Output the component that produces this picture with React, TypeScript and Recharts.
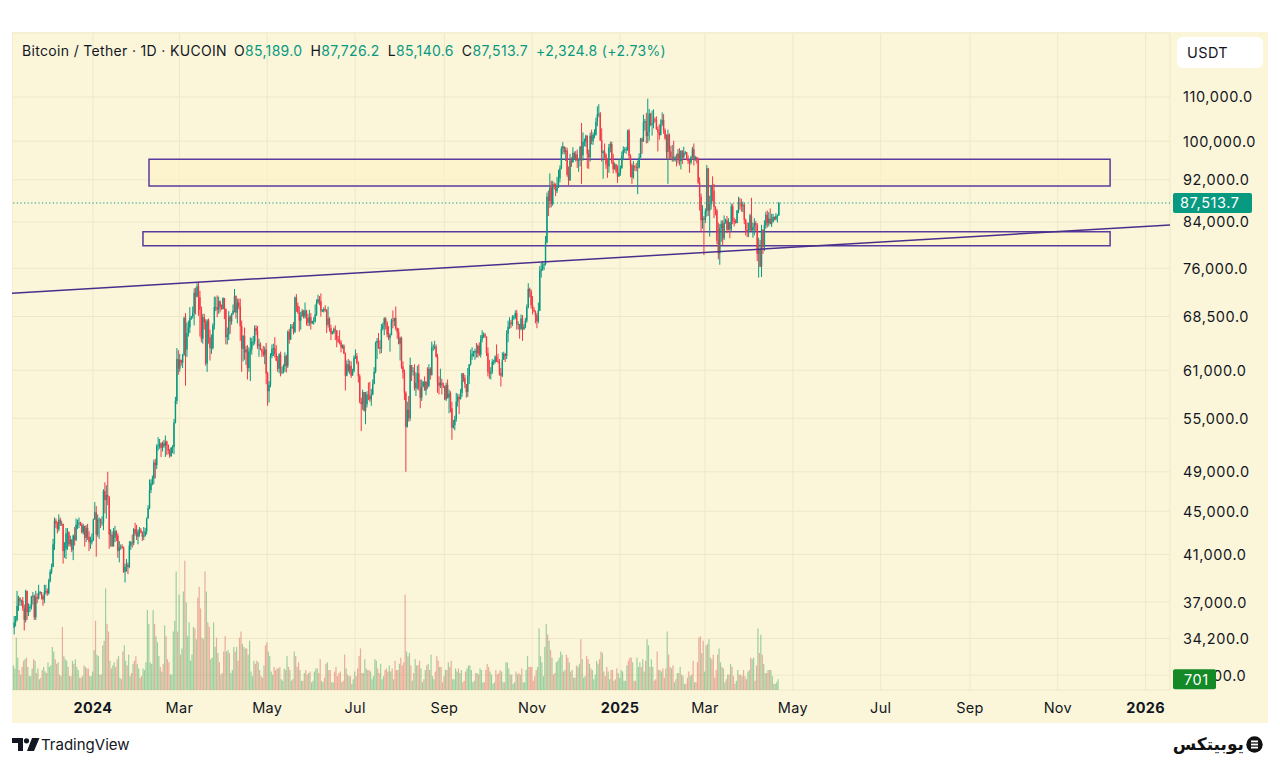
import React from "react";
import {
  ComposedChart,
  Bar,
  XAxis,
  YAxis,
  CartesianGrid,
  ReferenceLine,
  ReferenceArea,
} from "recharts";

// Day index is counted from 2024-01-01. First candle: 2023-11-07.
const FIRST_DAY = -55;
const FIRST_OPEN = 35.0; // thousands USDT

// Each row: [close, high, low, volume]; prices in thousands of USDT.
// A daily crypto candle opens at the previous day's close.
const NOV_2023 = [
  [35.4, 35.9, 34.5, 1600], [35.6, 35.9, 35.1, 1400], [36.7, 37.9, 35.5, 3400], [37.3, 37.5, 36.3, 2100], [37.1, 37.4, 36.7, 1300], [37.1, 37.2, 36.7, 1000],
  [36.5, 37.4, 36.3, 1500], [35.6, 36.8, 34.8, 1900], [37.9, 38.0, 35.4, 2000], [36.2, 37.9, 35.6, 2100], [36.6, 36.9, 35.9, 1500], [36.6, 36.8, 36.2, 900],
  [37.4, 37.5, 36.4, 900], [37.5, 37.8, 36.8, 1400], [35.8, 37.6, 35.6, 2000], [37.4, 37.9, 35.6, 1900], [37.3, 37.7, 36.9, 1100], [37.7, 38.4, 37.2, 1400],
  [37.8, 37.9, 37.6, 700], [37.5, 37.8, 37.2, 800], [37.2, 37.6, 36.7, 1300], [37.8, 38.4, 36.9, 1500], [37.9, 38.4, 37.6, 1200], [37.7, 38.1, 37.5, 1100],
];
const DEC_2023 = [
  [38.7, 38.9, 37.6, 1800], [39.5, 39.7, 38.6, 1500], [39.9, 40.2, 39.3, 1600], [41.9, 42.4, 39.9, 2800], [44.1, 44.4, 41.4, 2500], [43.8, 44.3, 43.4, 2000], [43.3, 44.0, 42.9, 1700], [44.2, 44.7, 43.1, 1800],
  [43.8, 44.4, 43.6, 1000], [43.8, 44.1, 43.6, 900], [41.3, 43.8, 40.2, 4100], [41.5, 42.1, 40.7, 2200], [42.9, 43.4, 40.6, 2000], [43.0, 43.4, 41.4, 1900], [41.9, 43.1, 41.7, 1500], [42.3, 42.7, 41.7, 900],
  [41.4, 42.4, 41.2, 900], [42.7, 42.8, 40.5, 1900], [42.3, 43.5, 41.8, 1700], [43.7, 44.3, 42.2, 2000], [43.9, 44.2, 43.3, 1500], [43.9, 44.4, 43.4, 1300], [43.7, 44.0, 43.6, 800], [43.0, 43.9, 42.9, 800],
  [43.6, 43.8, 42.8, 900], [42.5, 43.6, 41.7, 1600], [43.4, 43.7, 42.1, 1500], [42.6, 43.8, 42.3, 1400], [42.1, 43.1, 41.3, 1400], [42.1, 42.6, 41.5, 900], [42.3, 42.9, 41.9, 900],
];
const JAN_2024 = [
  [44.2, 44.3, 42.2, 1200], [44.9, 45.9, 44.2, 2600], [42.8, 45.5, 40.8, 4500], [44.2, 44.7, 42.6, 2300], [44.2, 44.4, 42.4, 2200], [43.9, 44.3, 43.4, 1000], [43.9, 44.5, 43.6, 1000], [47.0, 47.2, 43.2, 2900],
  [46.1, 47.9, 44.8, 3200], [46.6, 47.6, 44.3, 6600], [46.4, 49.0, 45.6, 4300], [42.8, 46.5, 41.5, 3800], [42.8, 43.3, 41.7, 1900], [41.7, 43.1, 41.7, 1400], [42.5, 43.4, 41.8, 1600], [43.1, 43.6, 42.1, 1800],
  [42.7, 43.2, 42.2, 1500], [41.3, 42.9, 40.7, 2000], [41.6, 42.2, 40.3, 2200], [41.7, 41.9, 41.4, 800], [41.6, 41.9, 41.5, 700], [39.5, 41.7, 39.4, 2500], [39.9, 40.2, 38.6, 2900], [40.1, 40.6, 39.5, 1900],
  [39.9, 40.3, 39.3, 1600], [41.8, 42.2, 39.8, 2300], [42.1, 42.2, 41.4, 900], [42.0, 42.8, 41.6, 1100], [43.3, 43.4, 41.8, 1700], [42.9, 43.9, 42.7, 1900], [42.6, 43.7, 42.3, 2200],
];
const FEB_2024 = [
  [43.1, 43.3, 41.9, 1700], [43.2, 43.5, 42.6, 1400], [43.0, 43.4, 42.9, 800], [42.6, 43.1, 42.2, 900], [42.7, 43.5, 42.3, 1400], [43.1, 43.4, 42.6, 1300], [44.3, 44.4, 42.8, 1800], [45.3, 45.6, 44.3, 5200],
  [47.1, 48.2, 45.2, 4300], [47.8, 48.2, 46.8, 1800], [48.3, 48.6, 47.6, 1700], [50.0, 50.3, 47.7, 5200], [49.7, 50.4, 48.3, 4300], [51.8, 52.0, 49.3, 3500], [51.9, 52.8, 51.3, 3100], [52.1, 52.6, 51.5, 2200],
  [51.6, 52.2, 50.6, 1500], [52.1, 52.3, 51.2, 1200], [51.8, 52.5, 51.6, 1700], [52.3, 53.0, 50.6, 4200], [51.9, 52.4, 50.8, 3500], [51.3, 52.0, 50.9, 2000], [50.7, 51.5, 50.5, 1800], [51.6, 51.7, 50.6, 1000],
  [51.7, 51.9, 51.0, 1000], [54.5, 54.9, 50.9, 3800], [57.1, 57.6, 54.4, 4500], [62.5, 64.0, 56.7, 7700], [61.2, 63.7, 60.4, 3800],
];
const MAR_2024 = [
  [62.4, 63.2, 60.8, 6200], [62.0, 62.4, 61.6, 2300], [63.1, 63.2, 61.3, 2700], [68.3, 68.5, 62.9, 6400], [63.8, 69.0, 59.0, 8400], [66.1, 67.6, 62.8, 5700], [66.9, 67.9, 65.6, 3500], [68.3, 69.9, 66.1, 4400],
  [68.5, 68.6, 68.0, 1900], [69.0, 70.0, 68.2, 2300], [72.1, 72.8, 67.2, 4100], [71.5, 72.9, 68.8, 4000], [73.1, 73.6, 71.4, 3300], [71.4, 73.8, 68.6, 6000], [69.5, 72.4, 65.6, 6700], [65.3, 70.0, 64.8, 5300],
  [68.4, 68.9, 64.6, 3400], [67.6, 68.9, 66.6, 3300], [61.9, 68.1, 61.6, 7700], [67.9, 68.1, 60.8, 6400], [65.5, 68.2, 64.6, 4400], [64.0, 66.6, 62.3, 4100], [64.0, 65.9, 63.2, 2000], [67.2, 67.5, 63.8, 2100],
  [69.9, 71.5, 66.6, 4400], [69.9, 71.5, 69.3, 2800], [69.5, 71.7, 68.4, 3400], [70.8, 71.5, 68.9, 2400], [69.9, 70.9, 69.1, 1800], [69.6, 70.3, 69.5, 1000], [71.3, 71.4, 69.6, 1100],
];
const APR_2024 = [
  [69.6, 71.3, 68.1, 2500], [65.5, 69.7, 64.5, 3500], [65.9, 66.9, 64.5, 2500], [68.5, 69.3, 65.1, 2600], [67.8, 68.7, 66.0, 2400], [68.9, 69.0, 67.3, 1100], [69.4, 70.3, 68.7, 1300], [71.6, 72.7, 69.1, 2800],
  [69.1, 71.7, 68.2, 2500], [70.6, 71.2, 67.5, 2800], [70.0, 71.2, 69.6, 1900], [67.1, 71.2, 65.0, 3400], [63.9, 67.9, 60.8, 3800], [65.7, 65.8, 62.2, 3000], [63.4, 66.9, 62.4, 2800], [63.8, 64.3, 61.7, 2700],
  [61.3, 64.4, 59.8, 2700], [63.5, 64.1, 60.8, 2300], [63.8, 65.5, 59.6, 3200], [64.9, 65.4, 63.1, 1200], [64.9, 65.7, 64.3, 900], [66.8, 67.2, 64.5, 1900], [66.4, 67.2, 65.8, 1700], [64.3, 67.1, 63.9, 1900],
  [64.5, 65.3, 62.8, 1800], [63.8, 64.8, 63.7, 1300], [63.5, 63.9, 62.8, 900], [63.1, 64.3, 62.8, 800], [63.8, 64.2, 61.8, 1600], [60.6, 64.7, 59.2, 2900],
];
const MAY_2024 = [
  [58.3, 60.8, 56.5, 3100], [59.1, 59.6, 56.9, 2500], [62.9, 63.3, 58.8, 2200], [63.9, 64.5, 62.6, 1200], [64.0, 64.6, 62.9, 1000], [63.2, 65.5, 62.7, 1500], [62.3, 64.4, 62.2, 1300], [61.2, 62.9, 60.8, 1400],
  [63.1, 63.3, 60.6, 1400], [60.8, 63.5, 60.2, 1500], [60.8, 61.5, 60.5, 700], [61.5, 61.8, 60.6, 600], [62.9, 63.4, 60.8, 1400], [61.6, 63.1, 60.7, 1300], [66.3, 66.5, 61.3, 2200], [65.2, 66.7, 64.6, 1500],
  [67.0, 67.4, 65.1, 1300], [67.0, 67.4, 66.7, 600], [66.3, 67.7, 65.9, 700], [71.4, 71.5, 66.1, 2500], [70.1, 71.9, 69.2, 2200], [69.1, 70.6, 68.9, 1500], [67.9, 70.0, 66.3, 1800], [68.5, 69.2, 66.6, 1300],
  [69.3, 69.6, 68.5, 600], [68.5, 69.5, 68.2, 600], [69.4, 70.6, 68.2, 1100], [68.3, 69.5, 67.2, 1300], [67.6, 68.9, 67.1, 1000], [68.4, 69.5, 67.1, 1100], [67.5, 69.0, 66.6, 1200],
];
const JUN_2024 = [
  [67.8, 67.9, 67.4, 500], [67.8, 68.4, 67.3, 600], [68.8, 70.3, 67.6, 1200], [70.6, 71.1, 68.6, 1400], [71.1, 71.8, 70.4, 1400], [70.8, 71.6, 70.2, 1100], [69.3, 72.0, 68.5, 2000], [69.3, 69.6, 69.2, 600],
  [69.6, 69.9, 69.1, 500], [69.5, 70.2, 69.2, 800], [67.3, 69.6, 66.1, 1700], [68.2, 70.0, 66.9, 1800], [66.8, 68.4, 66.3, 1300], [66.0, 67.3, 65.1, 1300], [66.2, 66.4, 65.9, 500], [66.7, 66.9, 66.0, 500],
  [66.5, 67.2, 65.1, 1200], [65.2, 66.5, 64.1, 1500], [64.9, 65.7, 64.7, 900], [64.8, 66.5, 64.5, 1100], [64.1, 65.1, 63.4, 1200], [64.3, 64.5, 63.9, 500], [63.2, 64.5, 63.2, 600], [60.3, 63.4, 58.4, 2300],
  [61.8, 62.3, 60.2, 1400], [60.9, 62.5, 60.7, 1000], [61.6, 62.3, 60.5, 900], [60.3, 62.2, 60.0, 900], [60.9, 61.2, 60.3, 400], [62.7, 63.0, 60.7, 700],
];
const JUL_2024 = [
  [62.9, 63.8, 62.5, 1200], [62.0, 63.3, 61.8, 900], [60.2, 62.2, 59.4, 1400], [57.0, 60.5, 56.8, 2200], [56.7, 57.5, 53.5, 2700], [58.2, 58.5, 56.0, 1100], [55.9, 58.2, 55.8, 1100], [56.7, 58.2, 54.3, 2000],
  [57.9, 58.3, 56.3, 1400], [57.7, 59.4, 57.2, 1300], [57.3, 59.5, 57.0, 1300], [57.9, 58.6, 56.5, 1200], [59.2, 59.8, 57.8, 700], [60.8, 61.4, 59.2, 900], [64.7, 64.9, 60.6, 2000], [65.0, 65.4, 62.5, 1900],
  [64.1, 66.1, 63.9, 1400], [63.9, 65.1, 63.2, 1100], [66.7, 67.4, 63.3, 1700], [67.2, 67.6, 66.5, 700], [68.2, 68.4, 65.8, 900], [67.6, 68.4, 66.6, 1300], [65.9, 67.8, 65.5, 1400], [65.4, 67.1, 65.1, 1200],
  [65.8, 66.1, 63.5, 1600], [67.9, 68.2, 65.8, 1200], [67.8, 69.4, 66.8, 1400], [68.3, 68.3, 67.1, 700], [66.8, 70.0, 66.5, 1900], [66.2, 66.9, 65.3, 1300], [64.6, 66.8, 64.5, 1300],
];
const AUG_2024 = [
  [65.4, 65.6, 62.3, 1700], [61.5, 65.6, 61.2, 2100], [60.7, 62.2, 59.9, 1600], [58.1, 61.1, 57.2, 1800], [54.0, 58.3, 49.0, 6200], [56.0, 57.0, 53.9, 2500], [55.0, 57.7, 54.6, 2200], [61.7, 62.7, 54.7, 2400],
  [60.9, 61.7, 59.6, 1600], [60.9, 61.4, 60.3, 600], [58.7, 61.8, 58.4, 1100], [59.4, 60.7, 57.7, 2000], [60.6, 61.6, 58.5, 1600], [58.7, 61.8, 58.4, 1600], [57.5, 59.8, 56.2, 1900], [58.9, 59.8, 57.1, 1400],
  [59.5, 59.6, 58.8, 500], [58.4, 60.2, 58.4, 700], [59.5, 59.6, 57.8, 1300], [59.0, 61.4, 58.6, 1600], [61.2, 61.8, 58.8, 1700], [60.4, 61.4, 59.8, 1300], [64.1, 64.9, 60.3, 2300], [64.2, 64.5, 63.6, 900],
  [64.2, 65.0, 63.8, 700], [62.8, 64.5, 62.7, 1200], [59.4, 63.2, 58.1, 2200], [59.0, 60.2, 57.9, 1900], [59.4, 61.2, 58.7, 1500], [59.1, 59.9, 57.9, 1500], [58.9, 59.4, 58.7, 500],
];
const SEP_2024 = [
  [57.3, 59.0, 57.2, 900], [59.1, 59.4, 57.1, 1300], [57.5, 59.8, 57.4, 1300], [58.0, 58.5, 55.6, 1800], [56.2, 58.3, 55.7, 1500], [53.9, 57.0, 52.5, 1900], [54.2, 54.8, 53.8, 700], [54.9, 55.3, 53.6, 700],
  [57.0, 58.1, 54.6, 1400], [57.6, 58.0, 56.4, 1200], [57.3, 57.9, 55.5, 1400], [58.1, 58.6, 57.3, 1100], [60.6, 60.6, 57.6, 1300], [60.0, 60.6, 59.5, 500], [59.2, 60.4, 58.7, 600], [58.2, 59.2, 57.5, 1200],
  [60.3, 61.3, 57.6, 1400], [61.8, 61.8, 59.2, 1600], [62.9, 63.8, 61.6, 1600], [63.2, 64.1, 62.4, 1300], [63.4, 63.6, 62.8, 500], [63.6, 63.9, 62.4, 600], [63.3, 64.7, 62.7, 1100], [64.3, 64.5, 62.7, 1100],
  [63.1, 64.8, 62.9, 1000], [65.2, 65.8, 62.7, 1400], [65.8, 66.5, 64.8, 1300], [65.9, 66.2, 65.4, 500], [65.6, 66.1, 65.4, 500], [63.3, 65.6, 62.9, 1300],
];
const OCT_2024 = [
  [60.8, 64.1, 60.2, 1700], [60.6, 62.4, 59.9, 1500], [60.8, 61.4, 59.8, 1200], [62.1, 62.5, 60.5, 1000], [62.1, 62.4, 61.7, 400], [62.8, 63.0, 61.9, 500], [62.2, 64.5, 62.1, 1300], [62.1, 63.2, 61.9, 1000],
  [60.6, 62.5, 60.3, 1100], [60.3, 61.3, 58.9, 1300], [62.4, 63.4, 60.1, 1200], [63.2, 63.5, 62.4, 500], [62.9, 63.3, 62.1, 500], [66.0, 66.5, 62.5, 1800], [67.0, 67.9, 64.8, 1800], [67.6, 68.4, 66.7, 1400],
  [67.4, 68.0, 66.8, 1000], [68.4, 68.7, 67.1, 1000], [68.4, 68.7, 68.0, 400], [69.0, 69.4, 68.1, 500], [67.4, 69.5, 66.6, 1200], [67.4, 67.8, 66.6, 1000], [66.7, 67.4, 65.3, 1100], [68.2, 68.8, 66.5, 1000],
  [66.6, 68.7, 65.0, 1400], [67.0, 67.4, 66.6, 500], [67.9, 68.3, 66.8, 500], [69.9, 70.3, 67.6, 1300], [72.7, 73.6, 69.7, 2200], [72.3, 72.9, 71.4, 1500], [70.2, 72.6, 69.7, 1500],
];
const NOV_2024 = [
  [69.5, 71.6, 68.8, 1500], [69.3, 69.9, 69.1, 600], [68.7, 69.4, 67.5, 900], [67.8, 69.0, 66.8, 1300], [69.4, 70.6, 67.5, 1500], [75.6, 76.4, 69.3, 4000], [75.9, 76.9, 74.5, 2200], [76.5, 77.2, 75.6, 1800],
  [76.7, 76.9, 75.7, 900], [80.4, 81.5, 76.5, 2800], [88.7, 89.5, 80.2, 4300], [87.9, 89.9, 85.1, 3600], [90.5, 93.3, 86.6, 3200], [87.3, 91.8, 86.7, 2600], [91.1, 91.8, 87.0, 2100], [90.6, 91.5, 90.1, 1000],
  [89.8, 91.3, 88.8, 1100], [90.5, 92.6, 89.4, 1800], [92.3, 94.0, 90.4, 1900], [94.3, 94.9, 91.5, 2100], [98.4, 98.9, 94.1, 2500], [98.9, 99.8, 97.2, 2300], [97.7, 98.8, 97.2, 1200], [98.0, 98.7, 95.8, 1300],
  [93.0, 98.6, 92.6, 2300], [91.9, 94.7, 90.8, 2100], [95.9, 97.3, 91.8, 1800], [95.6, 96.6, 94.6, 1200], [97.5, 98.7, 95.4, 1300], [96.4, 97.8, 96.1, 800],
];
const DEC_2024 = [
  [97.2, 97.9, 95.7, 800], [95.9, 98.2, 94.4, 1600], [96.0, 96.3, 93.6, 1500], [98.8, 99.0, 94.7, 1700], [97.0, 104.0, 91.2, 3300], [99.9, 101.9, 95.9, 2000], [99.9, 100.6, 98.9, 800], [101.2, 101.4, 98.8, 900],
  [97.3, 101.2, 94.3, 2200], [96.6, 98.2, 94.2, 2000], [101.2, 101.9, 95.7, 1700], [100.0, 102.5, 99.3, 1400], [101.4, 101.9, 99.2, 1300], [101.4, 102.6, 100.6, 700], [104.3, 105.2, 101.2, 1000], [106.0, 107.8, 103.3, 1900],
  [106.1, 108.3, 105.3, 1700], [100.2, 106.5, 100.0, 2000], [97.5, 102.8, 95.7, 2500], [97.8, 98.1, 92.2, 2400], [97.2, 99.5, 96.4, 1200], [95.1, 97.4, 94.2, 900], [94.7, 96.4, 92.4, 1500], [98.7, 99.4, 93.4, 1200],
  [99.4, 99.9, 97.6, 700], [95.7, 99.9, 95.2, 1300], [94.2, 97.3, 93.3, 1300], [95.1, 95.5, 94.0, 600], [93.7, 95.2, 93.3, 700], [92.6, 94.9, 91.4, 1400], [93.4, 96.2, 92.8, 1100],
];
const JAN_2025 = [
  [94.4, 94.9, 92.8, 800], [96.9, 97.8, 94.2, 1300], [98.1, 98.9, 96.0, 1200], [98.2, 98.7, 97.5, 600], [98.3, 98.8, 97.3, 600], [102.3, 102.5, 97.9, 1600], [96.9, 102.7, 96.1, 1900], [95.0, 97.2, 92.5, 2100],
  [92.5, 95.3, 91.2, 2100], [94.7, 95.8, 92.2, 1800], [94.6, 95.0, 93.8, 600], [94.5, 95.4, 93.7, 600], [94.5, 95.9, 89.2, 2100], [96.5, 97.4, 94.3, 1500], [100.5, 100.7, 96.5, 1800], [99.9, 100.8, 97.3, 1500],
  [104.1, 105.9, 99.9, 2000], [104.4, 104.9, 102.3, 1200], [101.1, 106.3, 99.5, 1900], [102.0, 109.6, 99.6, 3300], [106.1, 107.2, 100.1, 2900], [103.6, 106.3, 103.3, 1500], [103.9, 106.8, 101.2, 2000], [104.8, 107.1, 102.8, 1500],
  [104.7, 105.3, 104.1, 600], [102.6, 105.5, 102.5, 700], [102.0, 103.2, 97.8, 2500], [101.3, 103.7, 100.3, 1300], [103.7, 104.8, 101.3, 1300], [104.7, 106.4, 103.3, 1200], [102.4, 106.0, 101.6, 1400],
];
const FEB_2025 = [
  [100.6, 102.8, 100.3, 800], [97.7, 101.5, 96.2, 1400], [101.4, 102.5, 91.2, 3800], [97.8, 101.7, 96.2, 2300], [96.6, 99.0, 96.1, 1500], [96.6, 99.2, 95.7, 1400], [96.5, 100.1, 95.7, 1600], [96.5, 96.9, 95.7, 500],
  [96.4, 97.3, 94.7, 700], [97.4, 98.3, 95.3, 1100], [95.8, 98.5, 94.9, 1100], [97.9, 98.1, 94.1, 1500], [96.6, 98.1, 95.2, 1000], [97.5, 98.8, 96.3, 900], [97.6, 97.9, 97.1, 400], [96.1, 97.7, 96.0, 400],
  [95.8, 97.0, 95.2, 800], [95.5, 96.0, 93.4, 1200], [96.6, 96.9, 95.1, 900], [98.3, 98.8, 96.4, 1000], [96.1, 99.5, 94.9, 1900], [96.6, 96.9, 95.8, 500], [96.3, 96.7, 95.3, 500], [91.5, 96.5, 91.2, 1800],
  [88.7, 92.5, 86.1, 3400], [84.3, 89.3, 82.3, 3500], [84.7, 87.1, 82.8, 2400], [84.4, 85.1, 78.2, 3200],
];
const MAR_2025 = [
  [86.0, 86.5, 83.8, 1200], [94.3, 95.0, 85.0, 2900], [86.1, 94.4, 85.1, 3000], [87.2, 88.9, 81.4, 3300], [90.6, 91.0, 86.3, 2100], [89.9, 92.7, 87.8, 2000], [86.8, 91.2, 84.7, 2300], [86.1, 86.9, 85.2, 800],
  [80.7, 86.4, 80.1, 1300], [78.5, 83.9, 77.5, 2300], [82.9, 83.6, 76.6, 2700], [83.7, 84.3, 80.5, 1800], [81.1, 84.3, 79.9, 1500], [83.9, 85.2, 80.8, 1400], [84.3, 84.6, 83.7, 500], [82.6, 85.1, 82.0, 700],
  [84.0, 84.7, 82.5, 1000], [82.7, 84.0, 81.1, 1000], [86.9, 87.4, 82.3, 1700], [84.2, 87.4, 83.6, 1500], [84.0, 84.8, 83.2, 900], [83.8, 84.5, 83.7, 400], [86.1, 86.2, 83.8, 600], [87.5, 88.7, 85.6, 1300],
  [87.4, 88.5, 86.3, 1000], [86.9, 88.3, 85.9, 1000], [87.2, 87.8, 85.8, 900], [84.4, 87.5, 83.6, 1300], [82.6, 84.6, 81.6, 900], [82.4, 83.9, 81.3, 700], [82.5, 83.9, 81.3, 1200],
];
const APR_2025 = [
  [85.2, 85.5, 82.4, 1300], [82.5, 88.5, 82.3, 2100], [83.1, 83.9, 81.2, 2000], [83.8, 84.7, 81.6, 2100], [83.5, 84.2, 82.4, 600], [78.4, 83.8, 77.2, 1600], [79.2, 81.2, 74.5, 4000],
  [76.3, 80.8, 76.2, 2400], [82.6, 83.5, 74.6, 3600], [79.6, 82.7, 78.4, 2300], [83.4, 84.3, 78.9, 1700], [85.3, 85.9, 82.8, 1100], [83.8, 86.1, 83.0, 1100], [84.6, 85.8, 83.2, 1300],
  [83.6, 86.5, 83.6, 1300], [84.0, 85.5, 83.1, 1300], [84.9, 85.5, 83.9, 900], [84.5, 85.0, 84.3, 400], [85.1, 85.6, 84.3, 400], [85.189, 85.4, 83.9, 500], [87.5137, 87.7262, 85.1406, 701],
];

const MONTHS = [
  NOV_2023, DEC_2023, JAN_2024, FEB_2024, MAR_2024, APR_2024, MAY_2024, JUN_2024, JUL_2024,
  AUG_2024, SEP_2024, OCT_2024, NOV_2024, DEC_2024, JAN_2025, FEB_2025, MAR_2025, APR_2025,
];

const PRICE_TICKS = [31600, 34200, 37000, 41000, 45000, 49000, 55000, 61000, 68500, 76000, 84000, 92000, 100000, 110000];
const TIME_TICKS = [0, 60, 121, 182, 244, 305, 366, 425, 486, 547, 609, 670, 731];
const TIME_LABELS = ["2024", "Mar", "May", "Jul", "Sep", "Nov", "2025", "Mar", "May", "Jul", "Sep", "Nov", "2026"];

const HEADER = { name: "Bitcoin / Tether · 1D · KUCOIN", o: "85,189.0", h: "87,726.2", l: "85,140.6", c: "87,513.7", chg: "+2,324.8 (+2.73%)" };
const LAST_PRICE = 87513.7;
const LAST_VOLUME = 701;

const BOX_UPPER = { x1: 38.9, x2: 706.3, y1: 90800, y2: 96200 };
const BOX_LOWER = { x1: 34.7, x2: 706.3, y1: 79800, y2: 82260 };
const TREND = [{ x: -56.25, y: 72030 }, { x: 747.9, y: 83450 }];

const X_DOMAIN = [-56.25, 747.9];
const Y_DOMAIN = [30603, 126287];
const VOL_DOMAIN = [0, 42700];

const UP = "#089981";
const DOWN = "#F23645";
const VOL_UP = "rgba(80,175,110,0.55)";
const VOL_DOWN = "rgba(220,100,90,0.5)";
const BOX_STROKE = "#5B3A9E";
const TEXT = "#131722";
const FONT = "Inter, 'Noto Sans', sans-serif";

const data = (() => {
  const rows = MONTHS.flat();
  let prev = FIRST_OPEN;
  return rows.map((r, i) => {
    const [c, h, l, v] = r;
    const o = prev;
    prev = c;
    return {
      t: FIRST_DAY + i,
      o: o * 1000,
      c: c * 1000,
      h: h * 1000,
      l: l * 1000,
      v,
      range: [l * 1000, h * 1000],
    };
  });
})();

const Candle = (props: any) => {
  const { x, y, width, height, payload } = props;
  if (!payload || height == null) return null;
  const { o, c, h, l } = payload;
  const top = Math.min(y, y + height);
  const bot = Math.max(y, y + height);
  const lh = Math.log(h);
  const ll = Math.log(l);
  const span = lh - ll || 1e-9;
  const py = (v: number) => top + ((bot - top) * (lh - Math.log(v))) / span;
  const cx = x + width / 2;
  const bTop = py(Math.max(o, c));
  const bBot = py(Math.min(o, c));
  const color = c >= o ? UP : DOWN;
  return (
    <g>
      <line x1={cx} x2={cx} y1={top} y2={bot} stroke={color} strokeWidth={1} />
      <rect x={cx - 0.7} width={1.4} y={bTop} height={Math.max(bBot - bTop, 0.8)} fill={color} />
    </g>
  );
};

const VolumeBar = (props: any) => {
  const { x, y, width, height, payload } = props;
  if (!payload || !height) return null;
  const cx = x + width / 2;
  return <rect x={cx - 0.6} width={1.2} y={y} height={height} fill={payload.c >= payload.o ? VOL_UP : VOL_DOWN} />;
};

const TimeTick = (props: any) => {
  const { x, y, payload } = props;
  const i = TIME_TICKS.indexOf(payload.value);
  const label = TIME_LABELS[i] ?? "";
  const bold = /^\d{4}$/.test(label);
  return (
    <text x={x} y={y + 9} textAnchor="middle" dominantBaseline="central" fontSize={14.5} fontWeight={bold ? 700 : 400} letterSpacing={0.3} fill={TEXT} fontFamily={FONT}>
      {label}
    </text>
  );
};

const fmt1 = (v: number) => v.toLocaleString("en-US", { minimumFractionDigits: 1, maximumFractionDigits: 1 });

const PriceTick = (props: any) => {
  const { x, y, payload } = props;
  return (
    <text x={x + 5} y={y} textAnchor="start" dominantBaseline="central" fontSize={14.5} letterSpacing={0.6} fill={TEXT} fontFamily={FONT}>
      {fmt1(payload.value)}
    </text>
  );
};

const Tag = ({ viewBox, text, color, w, pad }: any) => {
  if (!viewBox) return null;
  const x = viewBox.x + viewBox.width + 3;
  const y = viewBox.y;
  return (
    <g>
      <rect x={x} y={y - 10} width={w} height={20} rx={2} fill={color} />
      <text x={x + pad} y={y} dominantBaseline="central" fontSize={14.5} letterSpacing={0.6} fill="#ffffff" fontFamily={FONT}>
        {text}
      </text>
    </g>
  );
};

const TVLogo = () => (
  <svg width={28} height={14} viewBox="0 0 28 14" style={{ position: "absolute", left: 12, top: 738 }}>
    <path d="M0 0h11v13H6V5H0z" fill={TEXT} />
    <circle cx={14.5} cy={2.8} r={2.6} fill={TEXT} />
    <path d="M20 0h7.5l-5.5 13h-7z" fill={TEXT} />
  </svg>
);

const CHART_W = 1256;
const CHART_H = 691;
const MARGIN = { top: 1, right: 0, bottom: 0, left: 0 };

export default function App() {
  return (
    <div style={{ position: "absolute", left: 0, top: 0, width: 1280, height: 766, background: "#ffffff", fontFamily: FONT, overflow: "hidden" }}>
      <div style={{ position: "absolute", left: 12, top: 32, width: 1256, height: 691, background: "#FBF6DA" }} />
      <div style={{ position: "absolute", left: 12, top: 32 }}>
        <ComposedChart width={CHART_W} height={CHART_H} data={data} margin={MARGIN} barCategoryGap={0} barGap={0}>
          <CartesianGrid stroke="#EEE8C8" strokeWidth={1} />
          <XAxis
            dataKey="t"
            type="number"
            domain={X_DOMAIN}
            allowDataOverflow
            ticks={TIME_TICKS}
            tick={<TimeTick />}
            axisLine={false}
            tickLine={false}
            height={33}
            interval={0}
          />
          <YAxis
            yAxisId={0}
            orientation="right"
            type="number"
            scale="log"
            domain={Y_DOMAIN}
            allowDataOverflow
            ticks={PRICE_TICKS}
            tick={<PriceTick />}
            axisLine={false}
            tickLine={false}
            width={98}
            interval={0}
          />
          <YAxis yAxisId="vol" type="number" domain={VOL_DOMAIN} hide allowDataOverflow />
          <ReferenceArea
            yAxisId={0}
            x1={BOX_UPPER.x1}
            x2={BOX_UPPER.x2}
            y1={BOX_UPPER.y1}
            y2={BOX_UPPER.y2}
            fill="#FFF3C4"
            fillOpacity={0.55}
            stroke={BOX_STROKE}
            strokeWidth={1.5}
            ifOverflow="visible"
          />
          <ReferenceArea
            yAxisId={0}
            x1={BOX_LOWER.x1}
            x2={BOX_LOWER.x2}
            y1={BOX_LOWER.y1}
            y2={BOX_LOWER.y2}
            fill="#FFF3C4"
            fillOpacity={0.55}
            stroke={BOX_STROKE}
            strokeWidth={1.5}
            ifOverflow="visible"
          />
          <Bar yAxisId="vol" dataKey="v" shape={<VolumeBar />} isAnimationActive={false} />
          <Bar yAxisId={0} dataKey="range" shape={<Candle />} isAnimationActive={false} />
          <ReferenceLine yAxisId={0} segment={TREND} stroke="#4A2E8C" strokeWidth={1.5} ifOverflow="visible" />
          <ReferenceLine yAxisId={0} y={LAST_PRICE} stroke={UP} strokeDasharray="1.2 2.4" strokeWidth={1.2} />
        </ComposedChart>
      </div>

      {/* Overlay layer: value tags drawn above the axis labels */}
      <div style={{ position: "absolute", left: 12, top: 32, pointerEvents: "none" }}>
        <ComposedChart width={CHART_W} height={CHART_H} data={data} margin={MARGIN}>
          <XAxis dataKey="t" type="number" domain={X_DOMAIN} allowDataOverflow tick={false} axisLine={false} tickLine={false} height={33} />
          <YAxis yAxisId={0} orientation="right" type="number" scale="log" domain={Y_DOMAIN} allowDataOverflow tick={false} axisLine={false} tickLine={false} width={98} />
          <YAxis yAxisId="vol" type="number" domain={VOL_DOMAIN} hide allowDataOverflow />
          <ReferenceLine
            yAxisId={0}
            y={LAST_PRICE}
            stroke="none"
            label={(p: any) => <Tag viewBox={p.viewBox} text={fmt1(LAST_PRICE)} color={UP} w={79} pad={7} />}
          />
          <ReferenceLine
            yAxisId="vol"
            y={LAST_VOLUME}
            stroke="none"
            label={(p: any) => <Tag viewBox={p.viewBox} text={String(LAST_VOLUME)} color="#138A26" w={43} pad={11} />}
          />
        </ComposedChart>
      </div>

      <div style={{ position: "absolute", left: 22, top: 42, fontSize: 14, letterSpacing: 0.33, color: TEXT, whiteSpace: "nowrap", lineHeight: "18px" }}>
        <span>{HEADER.name}</span>
        <span style={{ marginLeft: 7 }}>O</span><span style={{ color: UP }}>{HEADER.o}</span>
        <span style={{ marginLeft: 8 }}>H</span><span style={{ color: UP }}>{HEADER.h}</span>
        <span style={{ marginLeft: 8 }}>L</span><span style={{ color: UP }}>{HEADER.l}</span>
        <span style={{ marginLeft: 8 }}>C</span><span style={{ color: UP }}>{HEADER.c}</span>
        <span style={{ marginLeft: 8, color: UP }}>{HEADER.chg}</span>
      </div>

      <div style={{ position: "absolute", left: 1177, top: 37, width: 86, height: 31, background: "#ffffff", borderRadius: 6, fontSize: 14.5, letterSpacing: 0.4, color: TEXT, lineHeight: "31px", paddingLeft: 10, boxSizing: "border-box" }}>
        USDT
      </div>

      <TVLogo />
      <div style={{ position: "absolute", left: 41, top: 735, fontSize: 15, color: TEXT, lineHeight: "20px" }}>TradingView</div>

      <div style={{ position: "absolute", left: 1180, width: 64, top: 733, fontSize: 17, fontWeight: 700, color: "#111", fontFamily: "'DejaVu Sans', sans-serif", direction: "rtl", textAlign: "right", lineHeight: "22px", whiteSpace: "nowrap" }}>
        یوبیتکس
      </div>
      <svg width={17} height={17} style={{ position: "absolute", left: 1246, top: 736 }}>
        <circle cx={8.5} cy={8.5} r={8.2} fill="#111" />
        <rect x={5} y={4.5} width={7} height={1.8} fill="#fff" />
        <rect x={5} y={7.6} width={7} height={1.8} fill="#fff" />
        <rect x={5} y={10.7} width={7} height={1.8} fill="#fff" />
      </svg>
    </div>
  );
}
